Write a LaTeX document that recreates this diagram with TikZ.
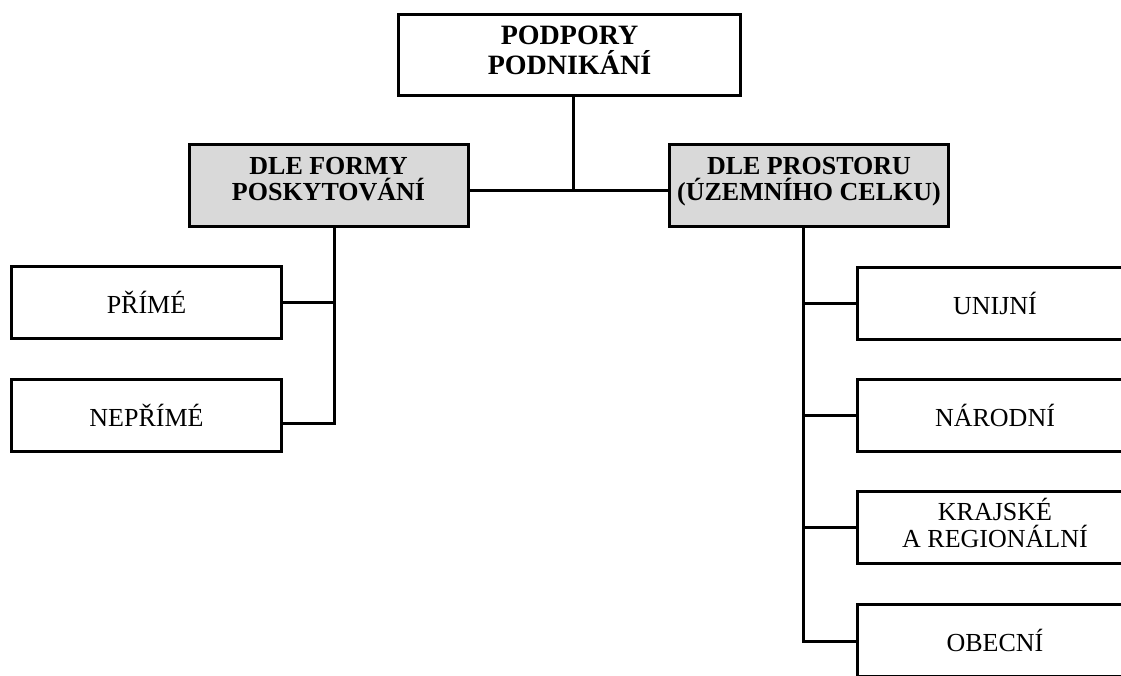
\documentclass[tikz,border=0pt]{standalone}
\usepackage{fontspec}
\setmainfont{Liberation Serif}
\usetikzlibrary{positioning}

\definecolor{boxgray}{RGB}{217,217,217}

\tikzset{
	box/.style = {draw, line width = 3, inner sep = 0, align = center,
		minimum width = 270, minimum height = 72,
		font = \fontsize{26}{27}\selectfont},
	headbox/.style = {box, fill = boxgray, minimum width = 279, minimum height = 82,
		text depth = 14, font = \fontsize{26}{26}\selectfont\bfseries},
	link/.style = {line width = 3}
}

\begin{document}
\begin{tikzpicture}[x = 1pt, y = -1pt]

	\useasboundingbox (0, 0) rectangle (1121, 675);
	\clip (0, 0) rectangle (1121, 675);
	\fill [white] (0, 0) rectangle (1121, 675);

	% Top box

	\node [box, minimum width = 342, minimum height = 81, text depth = 10,
		font = \fontsize{28}{30}\selectfont\bfseries]
		(podpory) at (569.5, 55) {PODPORY\\PODNIKÁNÍ};

	% Second level

	\node [headbox] (forma) at (328.5, 185.5) {DLE FORMY\\POSKYTOVÁNÍ};
	\node [headbox] (prostor) at (809, 185.5) {DLE PROSTORU\\(ÚZEMNÍHO CELKU)};

	% Left branch

	\node [box] (prime) at (146.5, 302.5) {PŘÍMÉ};
	\node [box] (neprime) at (146.5, 415) {NEPŘÍMÉ};

	% Right branch

	\node [box, minimum width = 275] (unijni) at (995, 303) {UNIJNÍ};
	\node [box, minimum width = 275] (narodni) at (995, 415) {NÁRODNÍ};
	\node [box, minimum width = 275, text depth = 9] (krajske) at (995, 527.5) {KRAJSKÉ\\A REGIONÁLNÍ};
	\node [box, minimum width = 275] (obecni) at (995, 640.5) {OBECNÍ};

	% Connectors

	\coordinate (join) at (573, 190);
	\coordinate (leftbus) at (334, 423);
	\coordinate (rightbus) at (803, 641);

	\begin{scope}[link]

		\draw (podpory.south -| join) -- (join);
		\draw (forma.east |- join) -- (prostor.west |- join);

		\draw (forma.south -| leftbus) -- (leftbus) -- (neprime.east |- leftbus);
		\draw (prime.east) -- (prime.east -| leftbus);

		\draw (prostor.south -| rightbus) -- (rightbus) -- (obecni.west |- rightbus);
		\draw (unijni.west) -- (unijni.west -| rightbus);
		\draw (narodni.west) -- (narodni.west -| rightbus);
		\draw (krajske.west) -- (krajske.west -| rightbus);

	\end{scope}

\end{tikzpicture}
\end{document}
